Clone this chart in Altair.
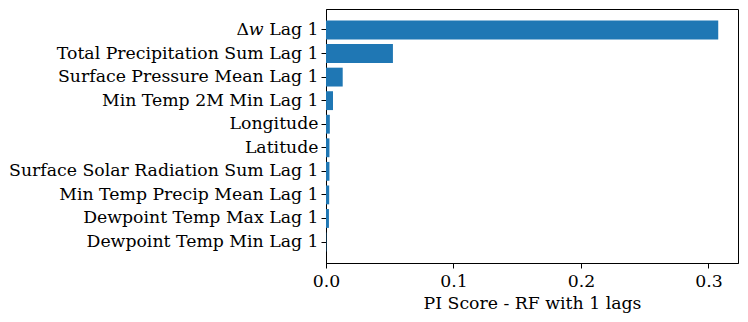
import altair as alt
import pandas as pd

features = [
    "Δ𝑤 Lag 1",
    "Total Precipitation Sum Lag 1",
    "Surface Pressure Mean Lag 1",
    "Min Temp 2M Min Lag 1",
    "Longitude",
    "Latitude",
    "Surface Solar Radiation Sum Lag 1",
    "Min Temp Precip Mean Lag 1",
    "Dewpoint Temp Max Lag 1",
    "Dewpoint Temp Min Lag 1",
]
scores = [0.3077, 0.0525, 0.0131, 0.0055, 0.0030, 0.0027, 0.0027, 0.0025, 0.0023, 0.0003]
x_ticks = [0.0, 0.1, 0.2, 0.3]

df = pd.DataFrame({"feature": features, "score": scores})

FONT = "DejaVu Serif"

chart = alt.Chart(df).mark_bar(color="#1f77b4").encode(
    x=alt.X(
        "score:Q",
        scale=alt.Scale(domain=[0, 0.3232], nice=False, zero=True),
        axis=alt.Axis(
            title="PI Score - RF with 1 lags",
            values=x_ticks,
            format=".1f",
            grid=False,
            tickColor="black",
            domainColor="black",
            tickSize=5,
            labelPadding=4,
            labelFlush=False,
            titlePadding=5,
        ),
    ),
    y=alt.Y(
        "feature:N",
        sort=None,
        scale=alt.Scale(paddingInner=0.2, paddingOuter=0.49),
        axis=alt.Axis(
            title=None,
            grid=False,
            tickColor="black",
            domainColor="black",
            tickSize=5,
            labelPadding=3,
            labelLimit=0,
        ),
    ),
).properties(
    width=412,
    height=254,
    padding={"left": 318, "top": 1, "right": 2, "bottom": 50},
    autosize=alt.AutoSizeParams(type="none"),
).configure_view(
    stroke="black", strokeWidth=1
).configure_axis(
    labelFont=FONT,
    titleFont=FONT,
    labelFontSize=17.3,
    titleFontSize=17.3,
    labelColor="black",
    titleColor="black",
    titleFontWeight="normal",
    domainWidth=1,
    tickWidth=1,
)

chart.save("out.html", embed_options={"renderer": "svg", "actions": False})
